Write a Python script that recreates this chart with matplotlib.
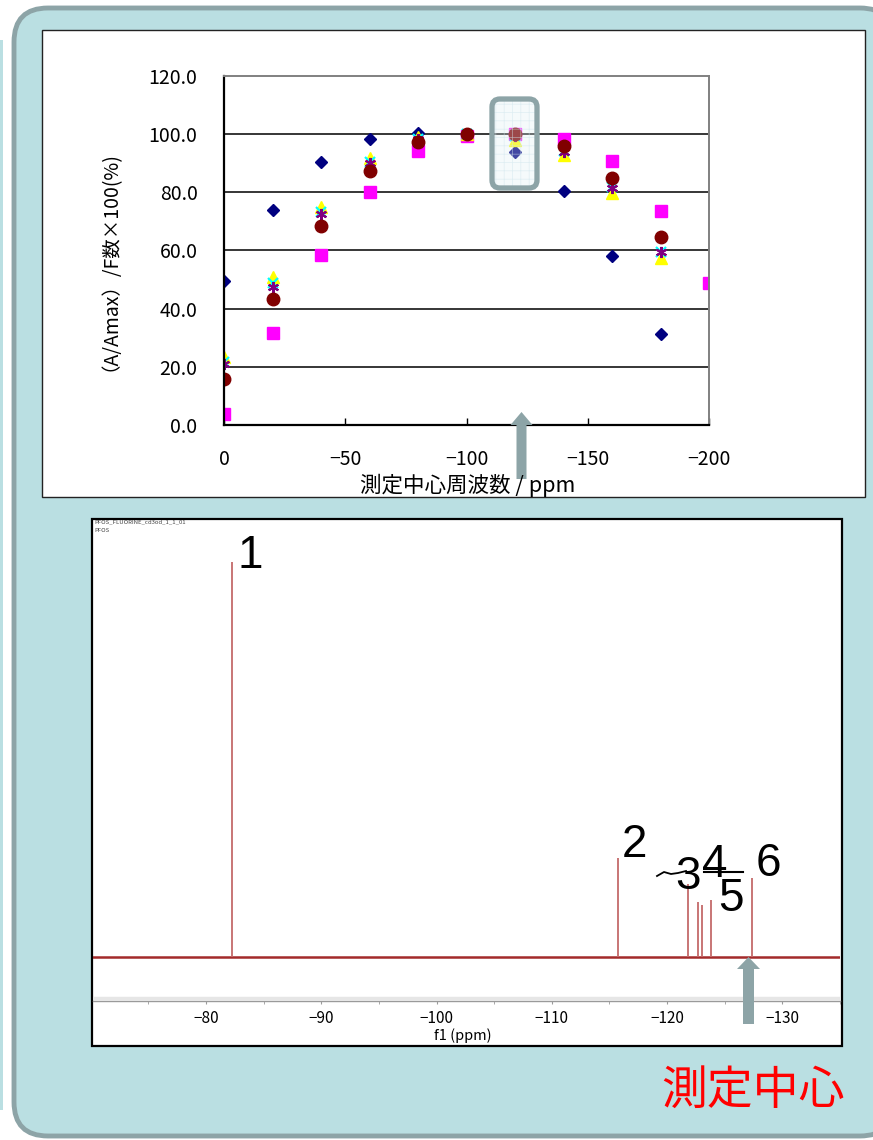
import matplotlib
matplotlib.use('Agg')
import matplotlib.pyplot as plt
from matplotlib.patches import FancyBboxPatch, Rectangle, FancyArrow

plt.rcParams['font.family'] = ['Noto Sans CJK JP', 'DejaVu Sans']
plt.rcParams['hatch.linewidth'] = 0.5

# --- upper chart: centre frequency (ppm) vs normalised area (%) ---
centre_ppm = [0, -20, -40, -60, -80, -100, -120, -140, -160, -180]
centre_ppm_ext = centre_ppm + [-200]
s_navy = [49.6, 73.9, 90.4, 98.2, 100.3, 100.0, 93.9, 80.6, 58.1, 31.3]
s_magenta = [3.7, 31.7, 58.3, 80.2, 94.1, 99.5, 100.0, 98.3, 90.8, 73.7, 48.9]
s_yellow = [23.5, 51.0, 75.0, 91.7, 98.9, 100.0, 98.0, 92.8, 79.8, 57.4]
s_cyan = [21.8, 48.8, 73.4, 90.6, 98.5, 100.0, 99.5, 94.2, 81.8, 59.6]
s_purple = [21.0, 47.6, 72.6, 90.0, 98.2, 100.0, 99.5, 94.0, 81.6, 59.6]
s_maroon = [15.7, 43.3, 68.5, 87.5, 97.2, 100.0, 100.0, 95.9, 85.0, 64.8]

x_ticks = [0, -50, -100, -150, -200]
y_ticks = [0, 20, 40, 60, 80, 100, 120]

# --- lower chart: 19F NMR spectrum of PFOS ---
peak_ppm = [-82.3, -115.7, -121.8, -122.7, -123.0, -123.8, -127.4]
peak_height = [1.0, 0.251, 0.185, 0.139, 0.132, 0.144, 0.200]
spec_ticks = [-80, -90, -100, -110, -120, -130]
spec_minor = [-75, -85, -95, -105, -115, -125, -135]

W, H = 873, 1140
fig = plt.figure(figsize=(W / 100, H / 100), dpi=100)
teal = '#8DA4A7'


def px_axes(x0, y0, x1, y1):
    return fig.add_axes([x0 / W, 1 - y1 / H, (x1 - x0) / W, (y1 - y0) / H])


# background panel
bg = px_axes(0, 0, W, H)
bg.set_xlim(0, W)
bg.set_ylim(H, 0)
bg.axis('off')
bg.add_patch(Rectangle((0, 40), 2.5, 1070, fc='#BADFE2', ec='none'))
bg.add_patch(FancyBboxPatch((14, 8), 880, 1128, boxstyle='round,pad=0,rounding_size=34',
                            fc='#BADFE2', ec=teal, lw=3.5))
bg.add_patch(Rectangle((42, 30), 823, 467, fc='white', ec='#222222', lw=1))
bg.add_patch(Rectangle((92, 519), 750, 527, fc='white', ec='black', lw=1.6))

# upper scatter chart
ax = px_axes(224, 76, 709, 425)
ax.set_facecolor('white')
ax.plot(centre_ppm, s_navy, ls='none', marker='D', ms=6.5, color='#000080', zorder=3)
ax.plot(centre_ppm_ext, s_magenta, ls='none', marker='s', ms=9, color='#FF00FF', zorder=4)
ax.plot(centre_ppm, s_yellow, ls='none', marker='^', ms=8.5, color='#FFFF00', zorder=5)
ax.plot(centre_ppm, s_cyan, ls='none', marker='x', ms=7, mew=1.6, color='#00FFFF', zorder=6)
ax.plot(centre_ppm, s_purple, ls='none', marker=(6, 2, 0), ms=8, mew=1.5, color='#800080', zorder=7)
ax.plot(centre_ppm, s_maroon, ls='none', marker='o', ms=9, color='#800000', zorder=8)
ax.set_xlim(0, -200)
ax.set_ylim(0, 120)
ax.set_xticks(x_ticks)
ax.set_xticklabels([str(v).replace('-', '\u2212') for v in x_ticks])
ax.set_yticks(y_ticks)
ax.set_yticklabels([f'{v:.1f}' for v in y_ticks])
for v in y_ticks[1:-1]:
    ax.axhline(v, color='black', lw=1.1, zorder=1)
ax.tick_params(axis='y', length=0, pad=19, labelsize=14)
ax.tick_params(axis='x', direction='in', length=5, width=1, pad=17, labelsize=14)
ax.spines['left'].set_color('black')
ax.spines['left'].set_linewidth(1.6)
ax.spines['bottom'].set_color('black')
ax.spines['bottom'].set_linewidth(1.6)
ax.spines['top'].set_color('#808080')
ax.spines['right'].set_color('#808080')
ax.spines['top'].set_linewidth(1.4)
ax.spines['right'].set_linewidth(1.4)
for sp in ax.spines.values():
    sp.set_zorder(9)

# lower spectrum
spec = px_axes(93, 521, 840, 1001)
spec.set_facecolor('none')
spec.set_xlim(-70.2, -135)
spec.set_ylim(-0.111, 1.104)
spec.axhline(0, color='#A32A2A', lw=1.8, zorder=2)
spec.vlines(peak_ppm, 0, peak_height, color='#C46A6A', lw=1.3, zorder=3)
spec.set_xticks(spec_ticks)
spec.set_xticklabels([str(v).replace('-', '\u2212') for v in spec_ticks])
spec.set_xticks(spec_minor, minor=True)
spec.set_yticks([])
for k in ('top', 'left', 'right'):
    spec.spines[k].set_visible(False)
spec.spines['bottom'].set_color('#9a9a9a')
spec.spines['bottom'].set_linewidth(1.0)
spec.axhline(-0.104, color='#e6e6e6', lw=2.5, zorder=1)
spec.tick_params(axis='x', which='both', direction='out', length=2.5, color='#9a9a9a',
                 pad=4, labelsize=11)

# overlay: annotations, arrows, highlight
ov = px_axes(0, 0, W, H)
ov.set_xlim(0, W)
ov.set_ylim(H, 0)
ov.axis('off')
ov.patch.set_alpha(0)

ov.text(100, 256, '（A/Amax）/F数×100(%)', rotation=90, ha='center', va='center', fontsize=14)
ov.text(468, 485, '測定中心周波数 / ppm', ha='center', va='center', fontsize=15.5)

ov.add_patch(FancyBboxPatch((492, 99), 45, 89, boxstyle='round,pad=0,rounding_size=8',
                            fc=(0.88, 0.94, 0.96, 0.3), ec='none'))
ov.add_patch(FancyBboxPatch((492, 99), 45, 89, boxstyle='round,pad=0,rounding_size=8',
                            fc='none', ec=(0.82, 0.90, 0.93, 0.6), lw=0, hatch='++'))
ov.add_patch(FancyBboxPatch((492, 99), 45, 89, boxstyle='round,pad=0,rounding_size=8',
                            fc='none', ec=teal, lw=3.8))

ov.add_patch(FancyArrow(521.5, 479, 0, -67, width=10, head_width=22, head_length=13,
                        length_includes_head=True, color=teal, lw=0))
ov.add_patch(FancyArrow(748.5, 1024, 0, -67, width=11, head_width=23, head_length=12,
                        length_includes_head=True, color=teal, lw=0))

ov.text(94, 522, 'PFOS_FLUORINE_cd3od_1_1_01', fontsize=4.3, color='#444444', va='center')
ov.text(94, 530, 'PFOS', fontsize=4.3, color='#444444', va='center')
ov.text(463, 1036, 'f1 (ppm)', ha='center', va='center', fontsize=10.5)

num_kw = dict(ha='center', va='center', fontsize=33, color='black',
              family=['Liberation Sans', 'DejaVu Sans'])
ov.text(250, 556, '1', **num_kw)
ov.text(634, 845, '2', **num_kw)
ov.text(688, 877, '3', **num_kw)
ov.text(715, 865, '4', **num_kw)
ov.text(731, 899, '5', **num_kw)
ov.text(768, 864, '6', **num_kw)
ov.plot([657, 664, 671, 678, 686], [876, 872, 874, 873, 871], color='black', lw=1.3)
ov.plot([704, 743], [872, 872], color='black', lw=1.5)

ov.text(753, 1091, '測定中心', ha='center', va='center', fontsize=33, color='#FF0000')

fig.savefig('out.png', dpi=100)
